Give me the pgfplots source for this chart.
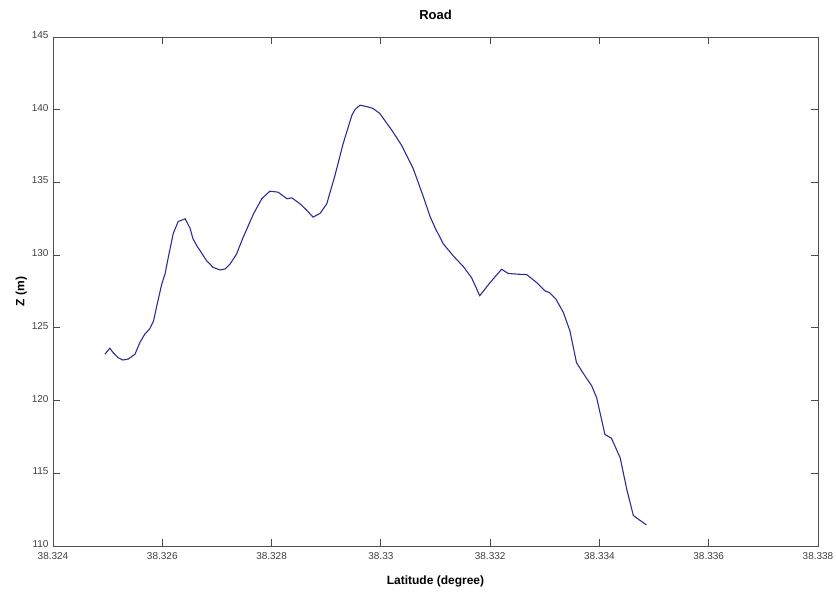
\documentclass[border=0pt]{standalone}
\usepackage{fontspec}
\setmainfont{Liberation Sans}
\usepackage{pgfplots}
\pgfplotsset{compat=1.18}
\definecolor{roadblue}{RGB}{45,45,150}
\begin{document}
\begin{tikzpicture}
\begin{axis}[
  scale only axis,
  width=765pt, height=509pt,
  xmin=38.324, xmax=38.338,
  ymin=110, ymax=145,
  xtick={38.324,38.326,38.328,38.33,38.332,38.334,38.336,38.338},
  xticklabels={38.324,38.326,38.328,38.33,38.332,38.334,38.336,38.338},
  ytick={110,115,...,145},
  scaled x ticks=false,
  tick align=inside,
  major tick length=7pt,
  xtick pos=both, ytick pos=both,
  tick label style={font=\fontsize{10}{12}\selectfont, text=black!75},
  xticklabel style={yshift=-3pt},
  yticklabel style={xshift=-1pt, yshift=2pt},
  /pgf/number format/assume math mode=true,
  axis line style={black!70, line width=0.8pt},
  every tick/.style={black!70, line width=0.8pt},
  title={\bfseries Road},
  title style={font=\fontsize{13}{15}\selectfont, yshift=8pt},
  xlabel={\bfseries Latitude (degree)},
  ylabel={\bfseries Z (m)},
  label style={font=\fontsize{12}{14}\selectfont},
  xlabel style={yshift=-9pt},
  ylabel style={yshift=-2pt},
]
\addplot[roadblue, line width=1.1pt] coordinates {
(38.32495,123.19)(38.32504,123.60)(38.32510,123.30)(38.32519,122.95)(38.32528,122.79)
(38.32538,122.86)(38.32550,123.19)(38.32559,123.99)(38.32568,124.57)(38.32577,124.93)
(38.32584,125.48)(38.32590,126.52)(38.32599,128.01)(38.32605,128.70)(38.32611,129.85)
(38.32620,131.48)(38.32629,132.31)(38.32642,132.50)(38.32651,131.83)(38.32656,131.14)
(38.32663,130.66)(38.32681,129.62)(38.32693,129.16)(38.32706,128.98)(38.32715,129.05)
(38.32724,129.39)(38.32736,130.08)(38.32748,131.23)(38.32767,132.84)(38.32782,133.88)
(38.32797,134.40)(38.32812,134.33)(38.32828,133.88)(38.32837,133.94)(38.32852,133.53)
(38.32863,133.14)(38.32876,132.61)(38.32889,132.88)(38.32901,133.53)(38.32916,135.48)
(38.32931,137.67)(38.32947,139.62)(38.32953,140.03)(38.32962,140.31)(38.32977,140.19)
(38.32986,140.08)(38.32998,139.74)(38.33020,138.59)(38.33038,137.55)(38.33059,135.97)
(38.33078,133.99)(38.33090,132.66)(38.33099,131.90)(38.33114,130.79)(38.33132,129.97)
(38.33151,129.21)(38.33166,128.45)(38.33181,127.21)(38.33200,128.12)(38.33221,129.03)
(38.33233,128.74)(38.33251,128.69)(38.33267,128.66)(38.33285,128.12)(38.33300,127.55)
(38.33309,127.41)(38.33320,127.00)(38.33334,126.06)(38.33346,124.79)(38.33358,122.61)
(38.33370,121.90)(38.33386,121.00)(38.33395,120.19)(38.33410,117.67)(38.33422,117.41)
(38.33438,116.06)(38.33450,113.90)(38.33462,112.10)(38.33471,111.85)(38.33486,111.45)
};
\end{axis}
\pgfresetboundingbox
\path[use as bounding box] ([xshift=-53pt,yshift=-49pt]current axis.south west) rectangle ([xshift=18pt,yshift=37pt]current axis.north east);
\end{tikzpicture}
\end{document}
